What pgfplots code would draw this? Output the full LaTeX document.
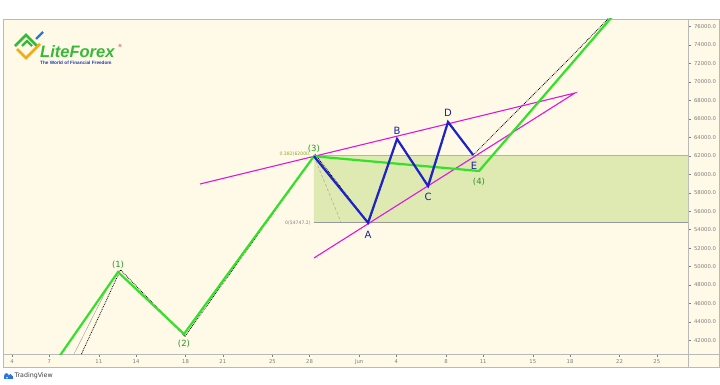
\documentclass[border=0pt]{standalone}
\usepackage{pgfplots}
\pgfplotsset{compat=1.18}
\usepackage{fontspec}
\setmainfont{DejaVu Sans}
\newfontfamily\lib{Liberation Sans}
\definecolor{bgcream}{RGB}{255,250,232}
\definecolor{framegray}{RGB}{185,185,185}
\definecolor{ticktext}{RGB}{125,125,125}
\definecolor{wgreen}{RGB}{50,225,40}
\definecolor{wlabel}{RGB}{40,150,40}
\definecolor{wblue}{RGB}{30,35,200}
\definecolor{lblue}{RGB}{25,35,150}
\definecolor{wmag}{RGB}{225,20,225}
\definecolor{fibfill}{RGB}{222,234,178}
\definecolor{fibline}{RGB}{160,205,90}
\definecolor{fibtext}{RGB}{140,170,40}
\definecolor{logogreen}{RGB}{55,185,55}
\definecolor{logoorange}{RGB}{245,170,20}
\definecolor{logoblue}{RGB}{40,120,220}
\definecolor{tagblue}{RGB}{30,60,170}
\begin{document}
\begin{tikzpicture}[x=1pt,y=1pt]
\useasboundingbox (0,0) rectangle (720,384);
\fill[white] (0,0) rectangle (720,384);
\fill[bgcream] (3,17) rectangle (719,365);
\draw[framegray,line width=0.8pt] (3,17) rectangle (719,365);
\draw[framegray,line width=0.8pt] (3,30)--(719,30);
\draw[framegray,line width=0.8pt] (688,17)--(688,365);
\begin{axis}[
  at={(3pt,30pt)}, anchor=south west, scale only axis,
  width=685pt, height=335pt,
  xmin=3.274, xmax=58.516, ymin=40533, ymax=76812,
  axis line style={framegray,line width=0.8pt},
  tick style={ticktext,line width=0.4pt},
  tick align=outside, major tick length=2.5pt,
  xtick pos=bottom, ytick pos=right, yticklabel pos=right,
  xtick={4,7,11,14,18,21,25,28,32,35,39,42,46,49,53,56},
  xticklabels={4,7,11,14,18,21,25,28,Jun,4,8,11,15,18,22,25},
  ytick={42000,44000,...,76000},
  scaled y ticks=false,
  y tick label style={/pgf/number format/fixed,/pgf/number format/fixed zerofill,/pgf/number format/precision=1,/pgf/number format/1000 sep={}},
  /pgf/number format/assume math mode=true,
  tick label style={font=\fontsize{5.3}{6}\selectfont, text=ticktext},
  x tick label style={yshift=0.5pt},
  clip=true,
]
% Fibonacci zone
\addplot[fill=fibfill,draw=none] coordinates {(28.35,54747) (58.6,54747) (58.6,62000) (28.35,62000) (28.35,54747)};
\addplot[fibline,line width=0.7pt] coordinates {(28.35,62000) (58.6,62000)};
\addplot[gray!80,line width=0.6pt] coordinates {(28.35,54747) (58.6,54747)};
\addplot[gray!70,densely dashed,line width=0.5pt] coordinates {(28.35,61950) (30.53,54826)};
% thin gray line
\addplot[gray!80,line width=0.4pt] coordinates {(9.0,40533) (11.7,47700)};
% price dotted
\addplot[black,densely dotted,line width=0.8pt] coordinates {(9.6,40533) (12.75,49650) (17.95,42450) (28.45,62150) (32.75,54700) (35.1,63850) (37.6,58650) (39.2,65700) (41.19,62083) (44.16,66090) (46.82,69664) (48.84,72372) (51.98,76704) (52.4,77400)};
% magenta channel
\addplot[wmag,line width=1.1pt] coordinates {(19.16,58943) (49.4,68798) (28.35,50929)};
% green waves
\addplot[wgreen,line width=2.2pt] coordinates {(7.0,38700) (12.55,49412) (17.87,42700) (28.35,61950) (41.66,60351) (53.0,78000)};
% blue pattern
\addplot[wblue,line width=2.2pt] coordinates {(28.35,61950) (32.71,54747) (35.05,63816) (37.55,58726) (39.16,65657) (41.19,62083)};
% labels
\begin{scope}[every node/.style={font=\fontsize{8.5}{9}\selectfont, text=wlabel, inner sep=0pt}]
\node at (axis cs:12.55,50150) {(1)};
\node at (axis cs:17.87,41650) {(2)};
\node at (axis cs:28.35,62700) {(3)};
\node at (axis cs:41.66,59200) {(4)};
\end{scope}
\begin{scope}[every node/.style={font=\fontsize{10}{10}\selectfont, text=lblue, inner sep=0pt}]
\node at (axis cs:32.71,53450) {A};
\node at (axis cs:35.05,64700) {B};
\node at (axis cs:37.55,57600) {C};
\node at (axis cs:39.16,66600) {D};
\node at (axis cs:41.26,60950) {E};
\end{scope}
\node[anchor=east,inner sep=0pt,font=\fontsize{4.6}{5}\selectfont,text=fibtext] at (axis cs:28.1,62200) {0.382(62000.};
\node[anchor=east,inner sep=0pt,font=\fontsize{4.6}{5}\selectfont,text=gray] at (axis cs:28.1,54747) {0(54747.2)};
\end{axis}
% LiteForex logo
\draw[logogreen,line width=2.6pt,line join=miter] (15,338)--(26,349)--(37,338);
\draw[logogreen,line width=2.2pt] (22,338)--(27,343)--(32,338);
\draw[logoblue,line width=2.4pt] (36,345)--(43,352);
\draw[logoorange,line width=2.6pt,line join=miter] (17,335)--(26,326)--(40,340);
\node[anchor=west,inner sep=0pt,font=\lib\bfseries\itshape\fontsize{16.5}{17}\selectfont,text=logogreen] at (40,332) {LiteForex};
\node[inner sep=0pt,font=\fontsize{4}{4}\selectfont,text=red!80!black] at (120,337.5) {®};
\node[anchor=west,inner sep=0pt,font=\lib\bfseries\fontsize{4.7}{5}\selectfont,text=tagblue] at (40,321) {The World of Financial Freedom};
% TradingView
\fill[logoblue] (4,5) rectangle (13,8.5);
\fill[logoblue] (6.5,8.5) circle (2.3);
\fill[logoblue] (10.3,8.2) circle (1.8);
\fill[white] (7,6.2) circle (0.9);
\node[anchor=west,inner sep=0pt,font=\fontsize{6.3}{7}\selectfont,text=black!75] at (14.5,8) {TradingView};
\end{tikzpicture}
\end{document}
